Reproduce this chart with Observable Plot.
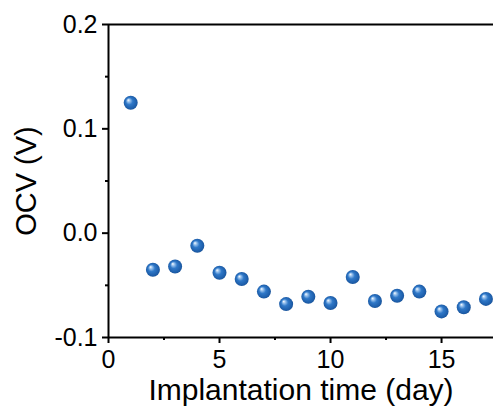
<!DOCTYPE html>
<html>
<head>
<meta charset="utf-8">
<script src="https://cdn.jsdelivr.net/npm/d3@7"></script>
<script src="https://cdn.jsdelivr.net/npm/@observablehq/plot@0.6"></script>
<style>
  html, body { margin: 0; padding: 0; background: #fff; }
</style>
</head>
<body>
<div id="chart"></div>
<script>
const days = [1, 2, 3, 4, 5, 6, 7, 8, 9, 10, 11, 12, 13, 14, 15, 16, 17];
const ocv = [0.125, -0.035, -0.032, -0.012, -0.038, -0.044, -0.056, -0.068, -0.061, -0.067, -0.042, -0.065, -0.060, -0.056, -0.075, -0.071, -0.063];
const xTicks = [0, 5, 10, 15];
const xMinorTicks = [2.5, 7.5, 12.5];
const yTicks = [-0.1, 0.0, 0.1, 0.2];
const yMinorTicks = [-0.05, 0.05, 0.15];
const xLabel = "Implantation time (day)";
const yLabel = "OCV (V)";

const data = days.map((d, i) => ({day: d, ocv: ocv[i]}));

const svg = Plot.plot({
  width: 493,
  height: 412,
  marginLeft: 108,
  marginRight: 0,
  marginTop: 24,
  marginBottom: 75,
  style: {fontFamily: "'Liberation Sans', Arial, sans-serif", background: "#fff", color: "#000"},
  x: {domain: [0, 17.34]},
  y: {domain: [-0.1, 0.2]},
  marks: [
    Plot.axisX({ticks: xTicks, tickSize: 6, tickPadding: 7, fontSize: 25, strokeWidth: 2, label: null, tickFormat: d => String(d)}),
    Plot.axisX({ticks: xMinorTicks, tickSize: 3, strokeWidth: 2, label: null, tickFormat: () => ""}),
    Plot.axisY({ticks: yTicks, tickSize: 6, tickPadding: 5, fontSize: 25, strokeWidth: 2, label: null, tickFormat: d => d.toFixed(1)}),
    Plot.axisY({ticks: yMinorTicks, tickSize: 3, strokeWidth: 2, label: null, tickFormat: () => ""}),
    Plot.ruleX([0], {strokeWidth: 2}),
    Plot.ruleY([-0.1], {strokeWidth: 2}),
    Plot.ruleY([0.2], {strokeWidth: 2}),
    Plot.dot(data, {x: "day", y: "ocv", r: 7, fill: "url(#ball)", stroke: "none"}),
    Plot.text([xLabel], {frameAnchor: "bottom", dy: 53, fontSize: 30, textAnchor: "middle", lineAnchor: "middle", text: d => d}),
    Plot.text([yLabel], {frameAnchor: "left", dx: -82, rotate: -90, fontSize: 29, textAnchor: "middle", lineAnchor: "middle", text: d => d})
  ]
});

const defs = d3.select(svg).insert("defs", ":first-child");
const g = defs.append("radialGradient")
  .attr("id", "ball")
  .attr("cx", "50%").attr("cy", "50%").attr("r", "55%")
  .attr("fx", "32%").attr("fy", "30%");
g.append("stop").attr("offset", "0%").attr("stop-color", "#ffffff");
g.append("stop").attr("offset", "18%").attr("stop-color", "#9cc4ee");
g.append("stop").attr("offset", "45%").attr("stop-color", "#2f78c8");
g.append("stop").attr("offset", "85%").attr("stop-color", "#1c5ca8");
g.append("stop").attr("offset", "100%").attr("stop-color", "#174a88");

document.getElementById("chart").appendChild(svg);
</script>
</body>
</html>
